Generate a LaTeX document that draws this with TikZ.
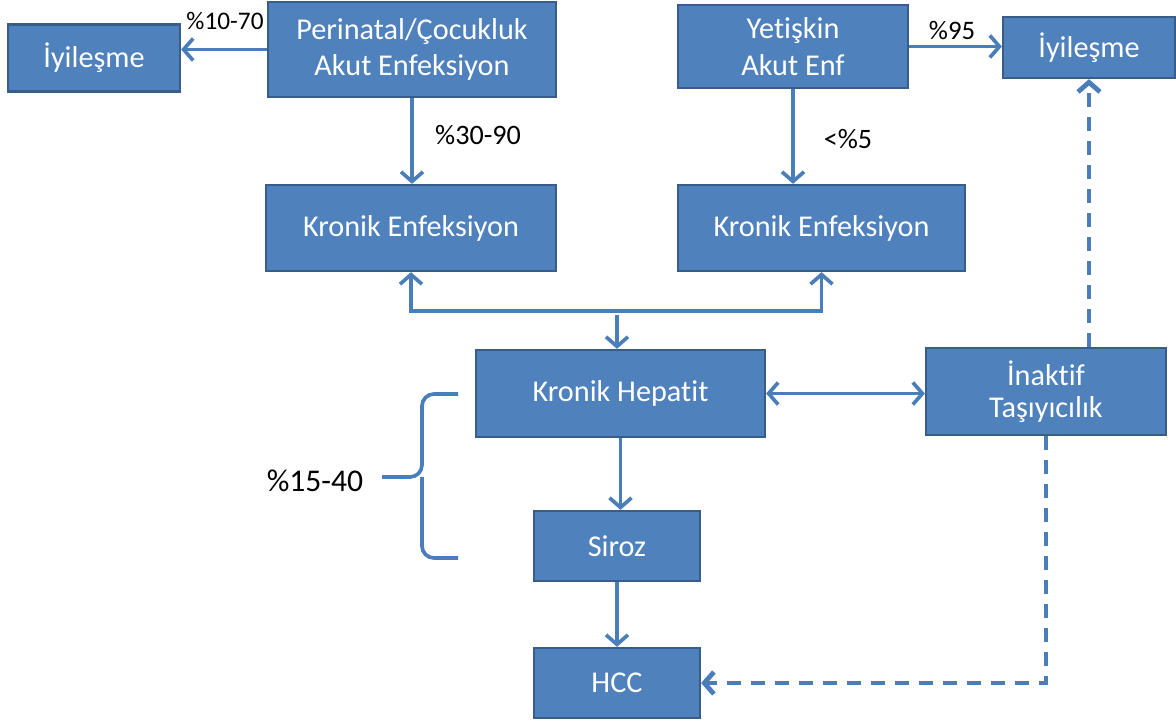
\documentclass[tikz,border=0pt]{standalone}
\usepackage{fontspec}
\setmainfont{Carlito}[Ligatures=NoCommon]
\usetikzlibrary{arrows.meta}
\definecolor{boxblue}{RGB}{79,129,189}
\definecolor{boxedge}{RGB}{56,93,138}
\definecolor{arrowblue}{RGB}{74,126,187}
\tikzset{
    box/.style={rectangle, fill=boxblue, draw=boxedge, line width=1.6pt,
    	text=white, align=center, inner sep=0pt,
    	font=\fontsize{21.5}{26}\selectfont}
}
\tikzset{
    pct/.style={inner sep=0pt, text=black, font=\fontsize{20}{24}\selectfont}
}
\tikzset{
    flow/.style={line width=2.6pt, draw=arrowblue,
    	-{Straight Barb[length=2.4mm,width=5.5mm]}},
    twoway/.style={flow, {Straight Barb[length=2.4mm,width=5.5mm]}-{Straight Barb[length=2.4mm,width=5.5mm]}},
    dashflow/.style={flow, line width=3.4pt, dash pattern=on 0.35cm off 0.25cm},
    bracket/.style={line width=2.6pt, draw=arrowblue, rounded corners=0.3cm}
}

\begin{document}
\begin{tikzpicture}
	\useasboundingbox (0,0) rectangle (29.4cm,-18.05cm);

	\node (iyi1) [box, minimum width=4.3cm, minimum height=1.675cm] at ( 2.35cm, -1.45cm) {İyileşme};
	\node (perinatal) [box, minimum width=7.2cm, minimum height=2.375cm] at (10.30cm, -1.2375cm) {Perinatal/Çocukluk\\Akut Enfeksiyon};
	\node (yetiskin) [box, minimum width=5.75cm, minimum height=2.075cm] at (19.825cm, -1.1625cm) {Yetişkin\\Akut Enf};
	\node (iyi2) [box, minimum width=4.3cm, minimum height=1.525cm] at (27.225cm, -1.1875cm) {İyileşme};
	\node (kronik1) [box, minimum width=7.25cm, minimum height=2.15cm] at (10.275cm, -5.7cm) {Kronik Enfeksiyon};
	\node (kronik2) [box, minimum width=7.175cm, minimum height=2.15cm] at (20.5375cm, -5.7cm) {Kronik Enfeksiyon};
	\node (hepatit) [box, minimum width=7.225cm, minimum height=2.175cm] at (15.5125cm, -9.8375cm) {Kronik Hepatit};
	\node (inaktif) [box, minimum width=6.0cm, minimum height=2.175cm,
		font=\fontsize{21.5}{23}\selectfont] at (26.15cm, -9.7875cm) {İnaktif\\Taşıyıcılık};
	\node (siroz) [box, minimum width=4.15cm, minimum height=1.75cm] at (15.425cm, -13.65cm) {Siroz};
	\node (hcc) [box, minimum width=4.15cm, minimum height=1.75cm] at (15.425cm, -17.075cm) {HCC};

	\node (p1070) [pct, font=\fontsize{18}{22}\selectfont] at ( 5.625cm, -0.525cm) {\%10-70};
	\node (p3090) [pct] at (11.95cm, -3.375cm) {\%30-90};
	\node (p5) [pct] at (21.2cm, -3.475cm) {<\%5};
	\node (p95) [pct, font=\fontsize{19}{22}\selectfont] at (23.8cm, -0.775cm) {\%95};
	\node (p1540) [pct, font=\fontsize{22.5}{26}\selectfont] at ( 7.875cm, -12.025cm) {\%15-40};

	\coordinate (junc) at (15.425cm, -7.875cm);
	\coordinate (bt) at (11.45cm, -9.85cm);
	\coordinate (bb) at (11.45cm, -13.95cm);
	\coordinate (tip) at (9.55cm, -11.925cm);

	\draw[flow] (perinatal.west) -- (perinatal.west -| iyi1.east);
	\draw[flow] (perinatal.south) -- (perinatal.south |- kronik1.north);
	\draw[flow] (yetiskin.east) -- (yetiskin.east -| iyi2.west);
	\draw[flow] (yetiskin.south) -- (yetiskin.south |- kronik2.north);
	\draw[twoway] (kronik1.south) -- ++(0,-0.975cm) -| (kronik2.south);
	\draw[flow] (junc) -- (junc |- hepatit.north);
	\draw[twoway] (hepatit.east) -- (hepatit.east -| inaktif.west);
	\draw[flow] (hepatit.south) -- (hepatit.south |- siroz.north);
	\draw[flow] (siroz.south) -- (hcc.north);
	\draw[dashflow] (inaktif.south) |- (hcc.east);
	\draw[dashflow] (iyi2.south |- inaktif.north) -- (iyi2.south);

	\draw[bracket] (bt) -| (10.55cm, -11.925cm) -- (tip);
	\draw[bracket] (bb) -| (10.55cm, -11.925cm);
\end{tikzpicture}
\end{document}
